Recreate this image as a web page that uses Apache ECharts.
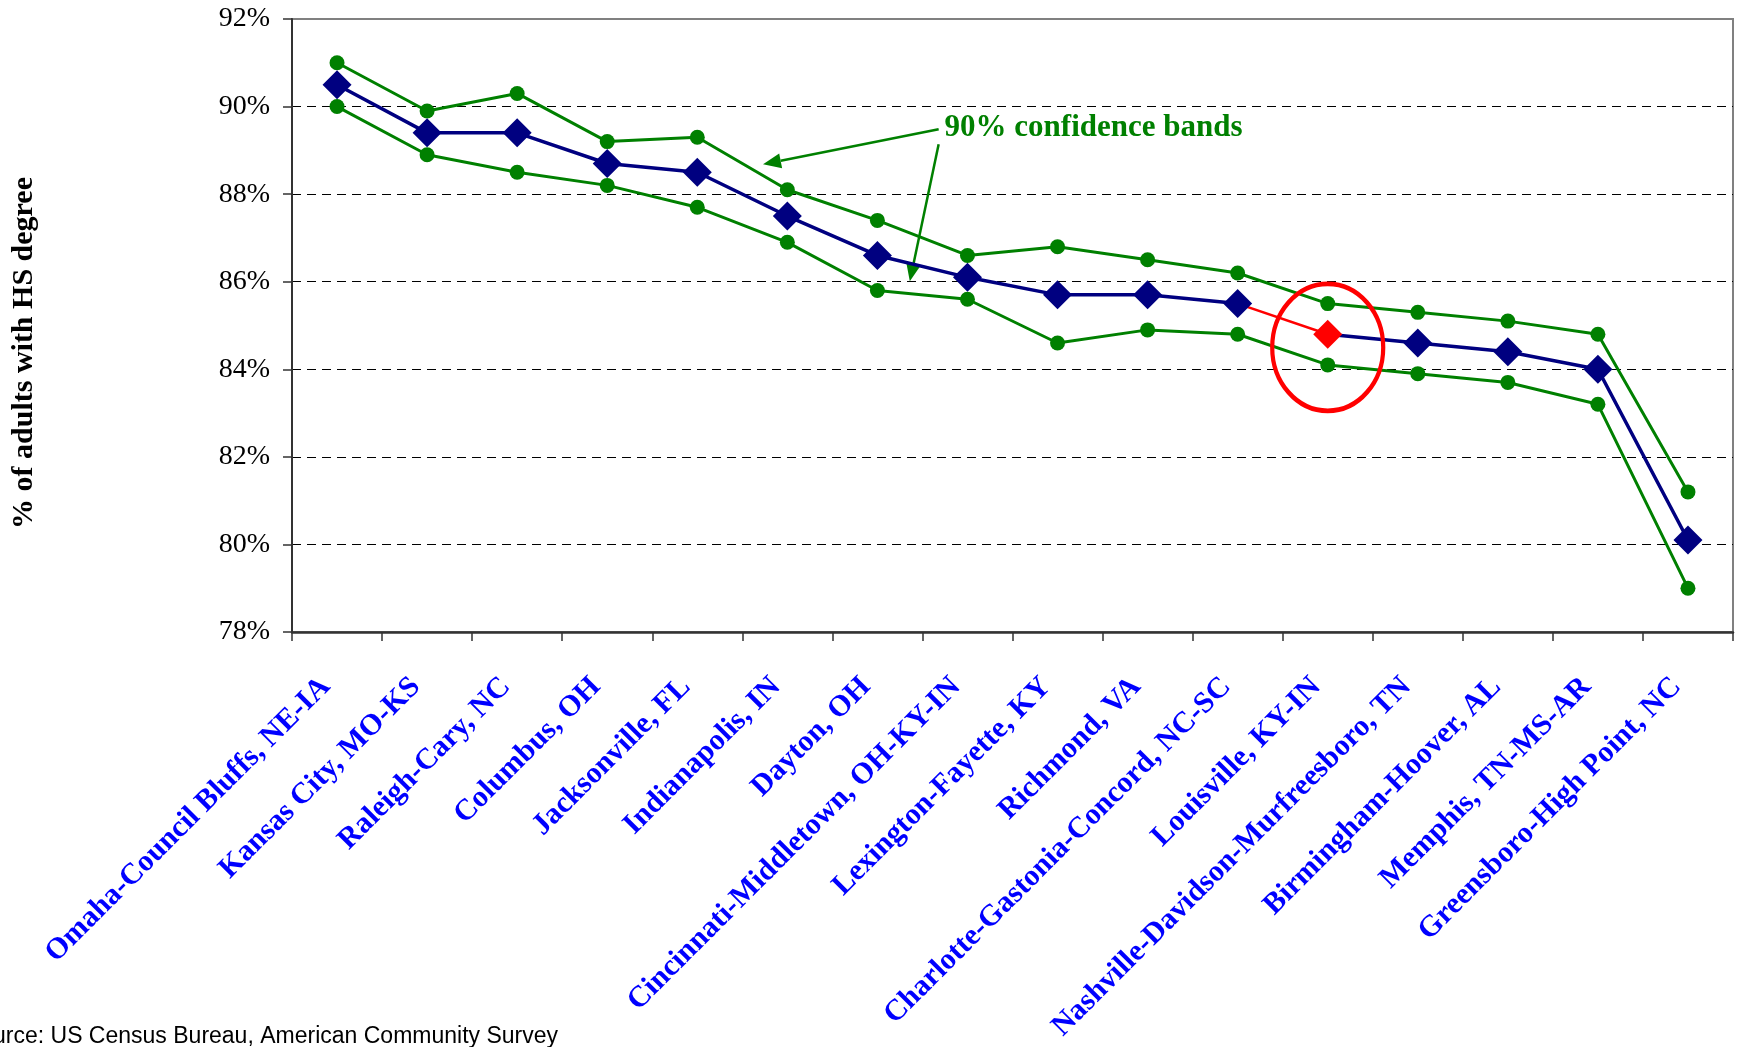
<!DOCTYPE html>
<html>
<head>
<meta charset="utf-8">
<script src="https://cdn.jsdelivr.net/npm/echarts@6/dist/echarts.min.js"></script>
<style>
html,body{margin:0;padding:0;background:#fff;overflow:hidden;}
#chart{width:1739px;height:1047px;}
</style>
</head>
<body>
<div id="chart"></div>
<script>
const categories = [
  "Omaha-Council Bluffs, NE-IA", "Kansas City, MO-KS", "Raleigh-Cary, NC", "Columbus, OH",
  "Jacksonville, FL", "Indianapolis, IN", "Dayton, OH", "Cincinnati-Middletown, OH-KY-IN",
  "Lexington-Fayette, KY", "Richmond, VA", "Charlotte-Gastonia-Concord, NC-SC", "Louisville, KY-IN",
  "Nashville-Davidson-Murfreesboro, TN", "Birmingham-Hoover, AL", "Memphis, TN-MS-AR", "Greensboro-High Point, NC"
];
const hsRate    = [90.5, 89.4, 89.4, 88.7, 88.5, 87.5, 86.6, 86.1, 85.7, 85.7, 85.5, 84.8, 84.6, 84.4, 84.0, 80.1];
const upperBand = [91.0, 89.9, 90.3, 89.2, 89.3, 88.1, 87.4, 86.6, 86.8, 86.5, 86.2, 85.5, 85.3, 85.1, 84.8, 81.2];
const lowerBand = [90.0, 88.9, 88.5, 88.2, 87.7, 86.9, 85.8, 85.6, 84.6, 84.9, 84.8, 84.1, 83.9, 83.7, 83.2, 79.0];
const yMin = 78, yMax = 92, yStep = 2;
const highlightIndex = 11;           // Louisville
const circleCenterValue = 84.5;      // centre of the red ring around Louisville
const annotationText = "90% confidence bands";
const yAxisTitle = "% of adults with HS degree";
const sourceText = "Source: US Census Bureau, American Community Survey";

const NAVY = "#000080", GREEN = "#008000", RED = "#FF0000";
const serif = "Liberation Serif";

const chart = echarts.init(document.getElementById('chart'), null, {renderer: 'canvas'});

const partA = hsRate.map((v, i) => i <= highlightIndex - 1 ? v : null);
const partC = hsRate.map((v, i) => i >= highlightIndex ? v : null);
const partRed = hsRate.map((v, i) => (i === highlightIndex - 1 || i === highlightIndex) ? v : null);
const diamonds = hsRate.map((v, i) => i === highlightIndex ? {value: v, itemStyle: {color: RED}} : v);
const bandLine = (data) => ({
  type: 'line', data: data, symbol: 'circle', symbolSize: 15, showSymbol: true,
  lineStyle: {color: GREEN, width: 3}, itemStyle: {color: GREEN, opacity: 1}, z: 3, silent: true, animation: false
});
const plainLine = (data, color, w) => ({
  type: 'line', data: data, symbol: 'none', connectNulls: false,
  lineStyle: {color: color, width: w}, z: 4, silent: true, animation: false
});

chart.setOption({
  animation: false,
  backgroundColor: '#fff',
  grid: {left: 292, right: 6, top: 19, bottom: 415, show: true, borderColor: '#808080', borderWidth: 2},
  xAxis: {
    type: 'category', data: categories, boundaryGap: true,
    axisLine: {lineStyle: {color: '#333', width: 2.5}},
    axisTick: {show: true, alignWithLabel: false, length: 9, lineStyle: {color: '#333', width: 1.5}},
    axisLabel: {rotate: 45, interval: 0, margin: 39, padding: [0, 16, 0, 0], color: '#0000FF', fontFamily: serif, fontWeight: 'bold', fontSize: 30},
    splitLine: {show: false}
  },
  yAxis: {
    type: 'value', min: yMin, max: yMax, interval: yStep,
    axisLine: {show: true, lineStyle: {color: '#333', width: 2}},
    axisTick: {show: true, length: 9, lineStyle: {color: '#333', width: 1.5}},
    axisLabel: {formatter: '{value}%', color: '#000', fontFamily: serif, fontSize: 28, margin: 22},
    splitLine: {show: true, showMinLine: false, showMaxLine: false, lineStyle: {color: '#000', type: [9, 6], width: 1}}
  },
  series: [
    bandLine(upperBand),
    bandLine(lowerBand),
    plainLine(partA, NAVY, 3.5),
    plainLine(partC, NAVY, 3.5),
    plainLine(partRed, RED, 2.5),
    {
      type: 'scatter', data: diamonds, symbol: 'diamond', symbolSize: 29,
      itemStyle: {color: NAVY, opacity: 1}, z: 6, silent: true, animation: false
    },
    {
      type: 'scatter', data: [[highlightIndex, circleCenterValue]], symbol: 'circle', symbolSize: [111, 127],
      itemStyle: {color: 'rgba(0,0,0,0)', borderColor: RED, borderWidth: 4.5, opacity: 1}, z: 7, silent: true, animation: false
    }
  ]
});

// annotation: positions derived from the axes
function px(idx, val) {
  const p0 = chart.convertToPixel({gridIndex: 0}, [0, val]);
  const p1 = chart.convertToPixel({gridIndex: 0}, [1, val]);
  return [p0[0] + (p1[0] - p0[0]) * idx, p0[1]];
}
function arrow(tail, tip) {
  const dx = tip[0] - tail[0], dy = tip[1] - tail[1];
  const len = Math.sqrt(dx * dx + dy * dy), ux = dx / len, uy = dy / len;
  const hl = 18, hw = 7.5;
  const bx = tip[0] - ux * hl, by = tip[1] - uy * hl;
  return [
    {type: 'line', shape: {x1: tail[0], y1: tail[1], x2: bx, y2: by}, style: {stroke: GREEN, lineWidth: 2.5}, silent: true},
    {type: 'polygon', shape: {points: [tip, [bx - uy * hw, by + ux * hw], [bx + uy * hw, by - ux * hw]]}, style: {fill: GREEN}, silent: true}
  ];
}
const textPos = px(6.746, 89.50);
const graphics = [].concat(
  arrow(px(6.68, 89.48), px(4.73, 88.68)),
  arrow(px(6.68, 89.14), px(6.36, 86.01)),
  [
    {type: 'text', x: textPos[0], y: textPos[1], silent: true,
     style: {text: annotationText, fill: GREEN, font: 'bold 31px "Liberation Serif"', textAlign: 'left', textVerticalAlign: 'middle'}},
    {type: 'text', x: 24, y: 353, rotation: Math.PI / 2, silent: true,
     style: {text: yAxisTitle, fill: '#000', font: 'bold 30px "Liberation Serif"', textAlign: 'center', textVerticalAlign: 'middle'}},
    {type: 'text', x: 558, y: 1037, silent: true,
     style: {text: sourceText, fill: '#000', font: '23px "Liberation Sans", Arial, sans-serif', textAlign: 'right', textVerticalAlign: 'middle'}}
  ]
);
chart.setOption({graphic: graphics});
</script>
</body>
</html>
